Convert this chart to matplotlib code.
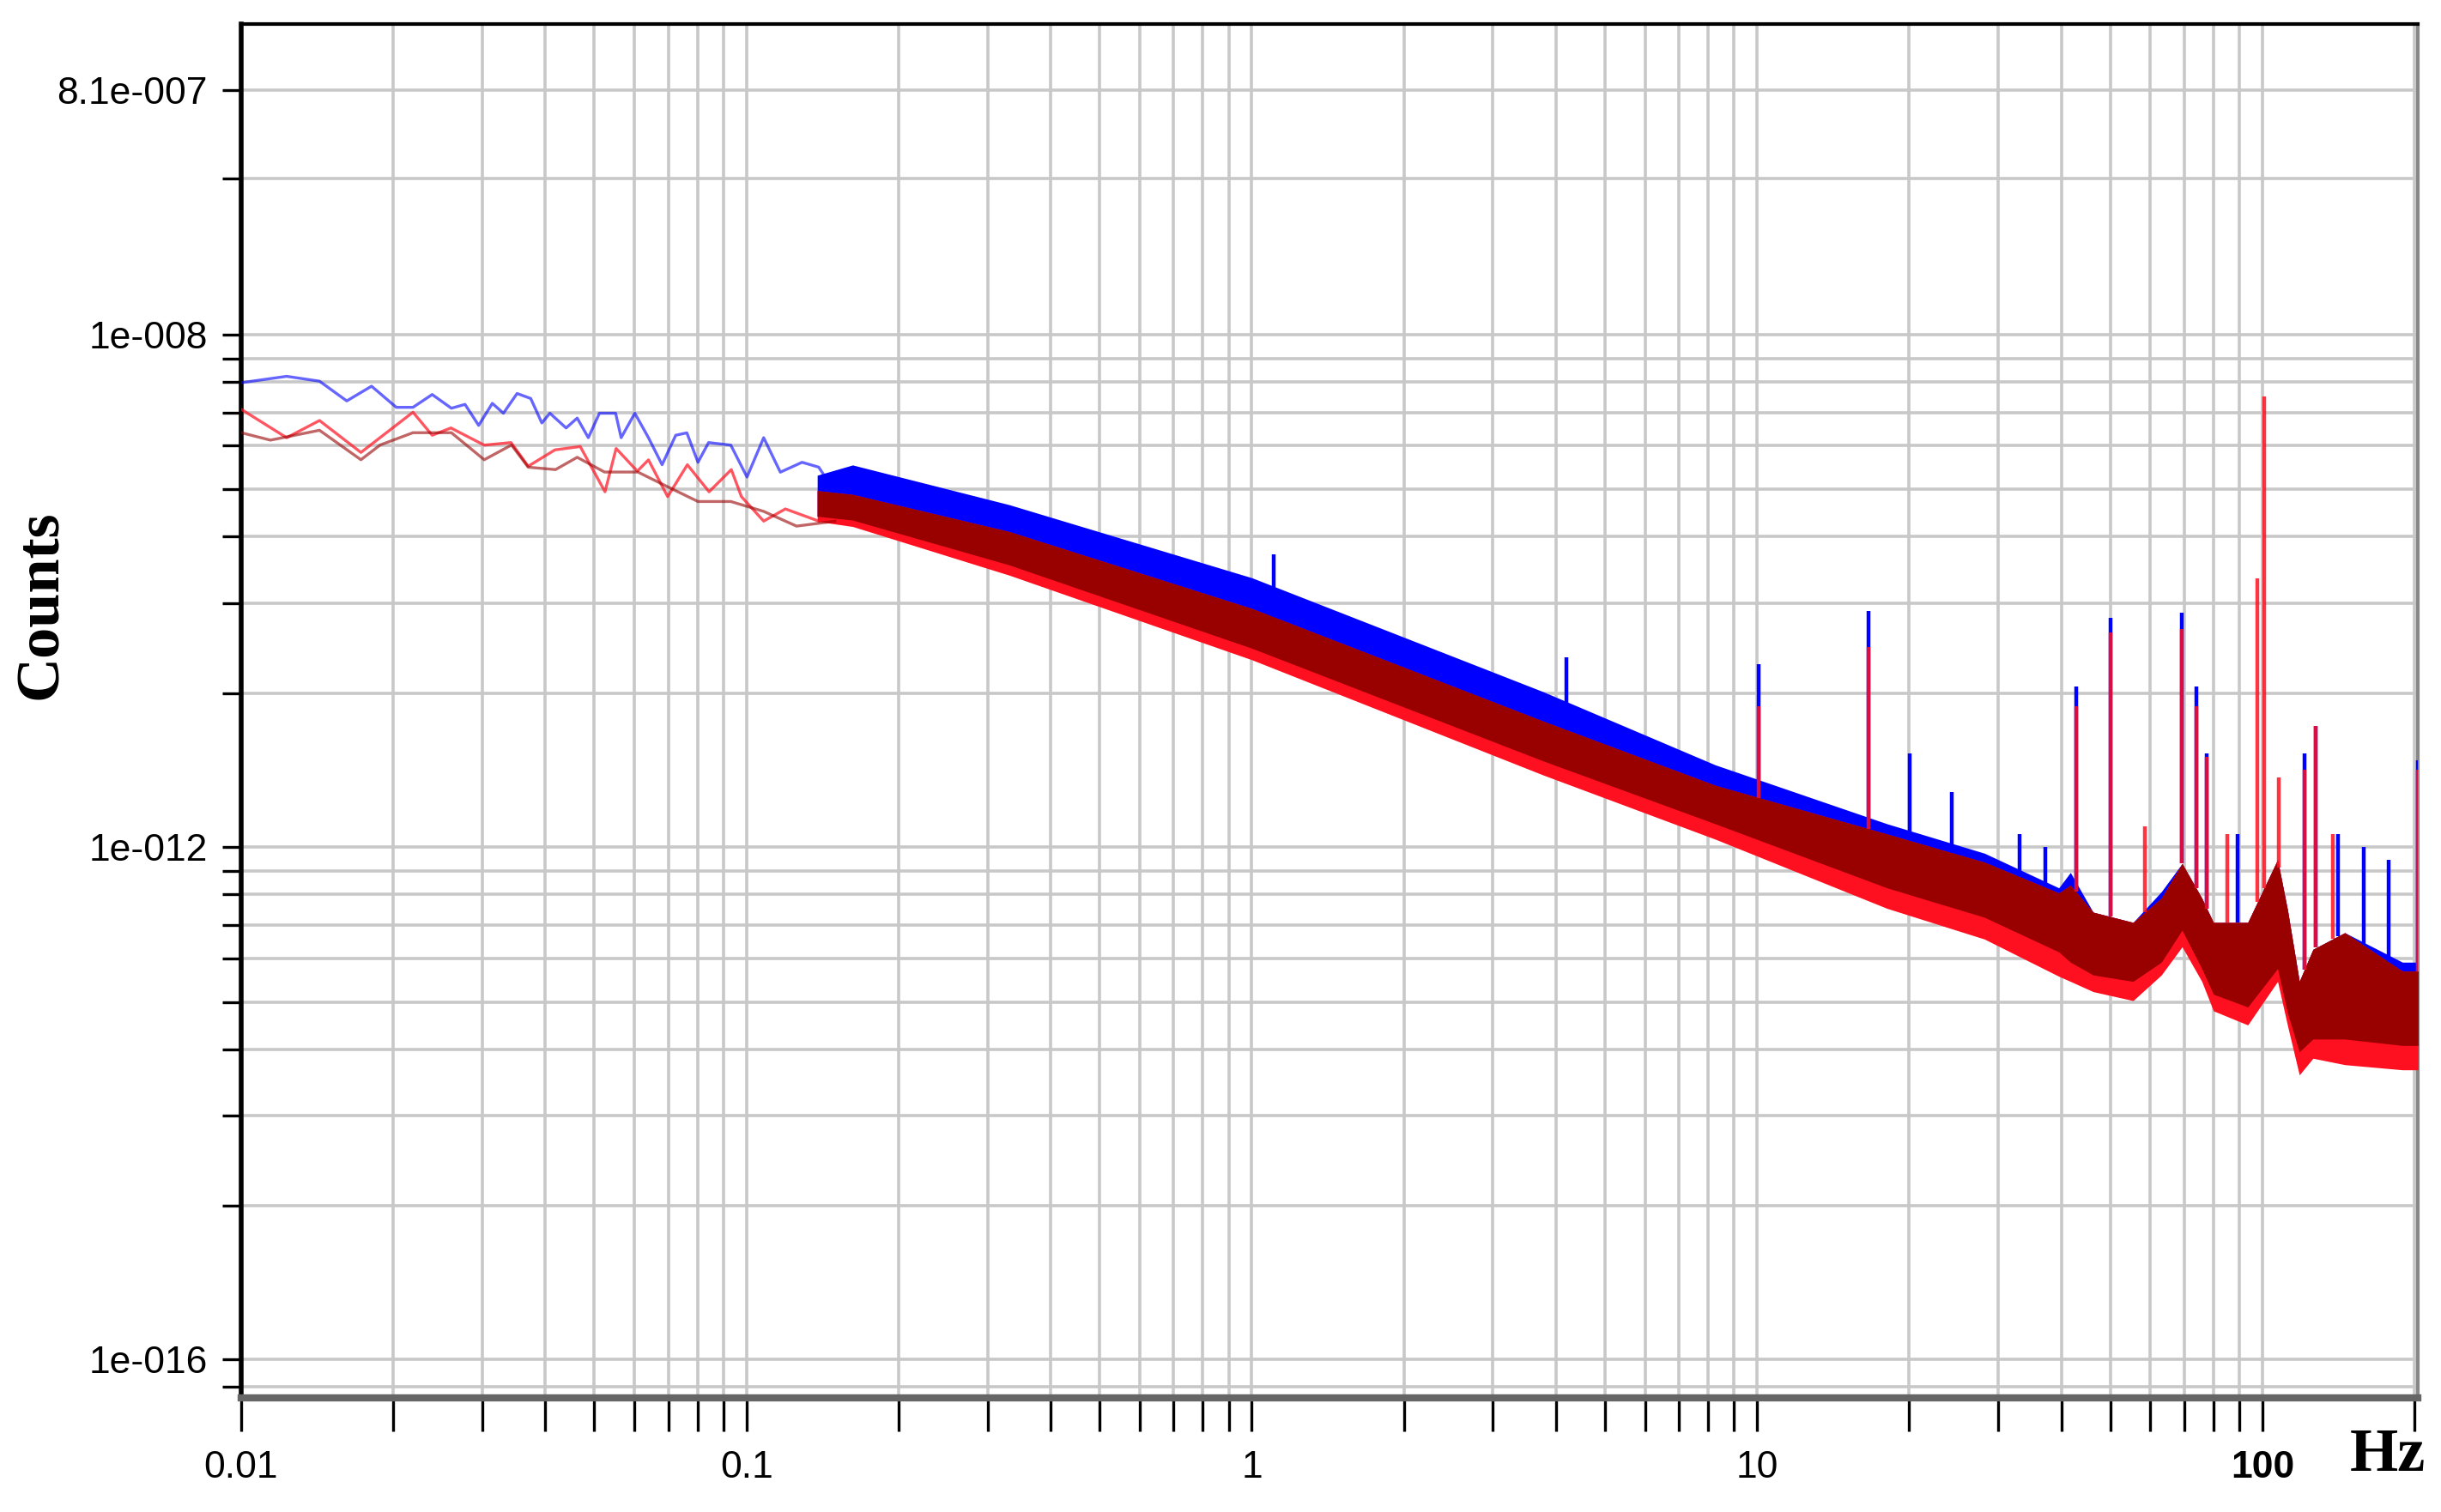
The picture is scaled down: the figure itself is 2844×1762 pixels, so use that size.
import numpy as np
import matplotlib
matplotlib.use("Agg")
import matplotlib.pyplot as plt
from matplotlib.ticker import FixedLocator, NullFormatter

# low-frequency traces, log10(Hz) and log10(counts)
blue_lf_x = [-2.0, -1.910, -1.845, -1.791, -1.742, -1.693, -1.660, -1.622, -1.584, -1.557, -1.530, -1.503,
             -1.481, -1.454, -1.427, -1.405, -1.389, -1.357, -1.335, -1.313, -1.291, -1.259, -1.248, -1.221,
             -1.194, -1.167, -1.140, -1.118, -1.096, -1.075, -1.031, -0.999, -0.966, -0.933, -0.890, -0.857, -0.825]
blue_lf_y = [-8.378, -8.328, -8.366, -8.520, -8.405, -8.570, -8.570, -8.470, -8.577, -8.547, -8.711, -8.539,
             -8.616, -8.462, -8.501, -8.692, -8.616, -8.731, -8.654, -8.807, -8.616, -8.616, -8.807, -8.616,
             -8.807, -9.018, -8.788, -8.769, -8.999, -8.845, -8.865, -9.114, -8.807, -9.076, -8.999, -9.037, -9.229]

red_lf_x = [-2.0, -1.910, -1.845, -1.763, -1.660, -1.622, -1.585, -1.519, -1.466, -1.432, -1.379, -1.329,
            -1.280, -1.258, -1.216, -1.194, -1.156, -1.117, -1.074, -1.030, -1.010, -0.966, -0.923, -0.857]
red_lf_y = [-8.585, -8.807, -8.673, -8.922, -8.608, -8.788, -8.731, -8.865, -8.845, -9.030, -8.902, -8.876,
            -9.229, -8.891, -9.068, -8.980, -9.267, -9.018, -9.229, -9.056, -9.267, -9.458, -9.363, -9.458]

dred_lf_x = [-2.0, -1.942, -1.845, -1.763, -1.725, -1.660, -1.584, -1.519, -1.465, -1.432, -1.378, -1.335,
             -1.281, -1.215, -1.156, -1.096, -1.031, -0.966, -0.901, -0.825]
dred_lf_y = [-8.768, -8.826, -8.749, -8.979, -8.864, -8.768, -8.768, -8.979, -8.864, -9.037, -9.056, -8.960,
             -9.075, -9.075, -9.190, -9.305, -9.305, -9.382, -9.497, -9.459]

# dense part: envelope of each noisy trace
band_x = [-0.86, -0.79, -0.48, 0.0, 0.577, 0.917, 1.257, 1.45, 1.597, 1.62, 1.665, 1.744, 1.80, 1.841, 1.88,
          1.903, 1.971, 2.03, 2.05, 2.073, 2.10, 2.163, 2.277, 2.308]
blue_top = [-9.10, -9.02, -9.33, -9.90, -10.79, -11.36, -11.82, -12.05, -12.32, -12.20, -12.51, -12.59, -12.35,
            -12.13, -12.40, -12.59, -12.59, -12.10, -12.50, -13.05, -12.80, -12.67, -12.90, -12.90]
dred_top = [-9.22, -9.25, -9.54, -10.14, -11.02, -11.52, -11.90, -12.12, -12.36, -12.30, -12.51, -12.59, -12.40,
            -12.13, -12.40, -12.59, -12.59, -12.10, -12.50, -13.05, -12.80, -12.67, -12.97, -12.97]
dred_bot = [-9.42, -9.45, -9.80, -10.45, -11.33, -11.82, -12.32, -12.55, -12.82, -12.90, -13.00, -13.05, -12.90,
            -12.65, -12.95, -13.15, -13.25, -12.95, -13.30, -13.60, -13.50, -13.50, -13.55, -13.55]
red_bot = [-9.46, -9.50, -9.88, -10.54, -11.44, -11.94, -12.48, -12.72, -13.01, -13.05, -13.13, -13.20, -13.00,
           -12.78, -13.05, -13.28, -13.39, -13.05, -13.40, -13.78, -13.65, -13.70, -13.74, -13.74]

# narrow peaks (log10 Hz, log10 peak)
blue_peaks = [(0.043, -9.716), (0.623, -10.52), (1.003, -10.577), (1.22, -10.156), (1.302, -11.27),
              (1.386, -11.574), (1.52, -11.9), (1.57, -12.0), (1.631, -10.75), (1.699, -10.213),
              (1.841, -10.175), (1.869, -10.75), (1.89, -11.27), (1.95, -11.9), (2.083, -11.27),
              (2.106, -11.06), (2.15, -11.9), (2.2, -12.0), (2.25, -12.1), (2.308, -11.325)]
red_peaks = [(1.003, -10.90), (1.22, -10.443), (1.631, -10.9), (1.699, -10.328), (1.767, -11.842),
             (1.841, -10.3), (1.869, -10.9), (1.89, -11.3), (1.93, -11.9), (1.99, -9.907), (2.003, -8.488),
             (2.033, -11.459), (2.083, -11.4), (2.106, -11.06), (2.14, -11.9), (2.308, -11.4)]

y_major = [8.1e-7, 1e-8, 1e-12, 1e-16]
y_major_labels = ["8.1e-007", "1e-008", "1e-012", "1e-016"]
grid_offsets = [0.19, 0.37, 0.61, 0.87, 1.21, 1.58, 2.1, 2.8]

BLUE = "#0000ff"
RED = "#ff1020"
DRED = "#990000"

fig = plt.figure(figsize=(14.22, 8.81), dpi=200)
ax = fig.add_axes([0.0988, 0.0755, 0.8917, 0.9085])
ax.set_xscale("log")
ax.set_yscale("log")

p = lambda a: 10.0 ** np.asarray(a)

bx = p(band_x)
ax.fill_between(bx, p(dred_bot), p(blue_top), color=BLUE, lw=0, zorder=2)
ax.fill_between(bx, p(red_bot), p(dred_top), color=RED, lw=0, zorder=3)
ax.fill_between(bx, p(dred_bot), p(dred_top), color=DRED, lw=0, zorder=4)

for f, pk in blue_peaks:
    base = np.interp(f, band_x, dred_top)
    ax.vlines(p(f), p(base), p(pk), color=BLUE, lw=1.6, zorder=3)
for f, pk in red_peaks:
    base = np.interp(f, band_x, dred_top)
    ax.vlines(p(f), p(base), p(pk), color=RED, lw=1.6, alpha=0.85, zorder=5)

ax.plot(p(blue_lf_x), p(blue_lf_y), color=BLUE, lw=1.2, alpha=0.6, zorder=3)
ax.plot(p(red_lf_x), p(red_lf_y), color=RED, lw=1.2, alpha=0.7, zorder=4)
ax.plot(p(dred_lf_x), p(dred_lf_y), color=DRED, lw=1.2, alpha=0.6, zorder=4)

ax.set_xlim(0.01, 203)
ax.set_ylim(10 ** -16.30, 10 ** -5.58)

# axis ticks / grid
ax.set_xticks([0.01, 0.1, 1, 10, 100])
ax.set_xticklabels(["0.01", "0.1", "1", "10", "100"], fontfamily="Liberation Sans", fontsize=16)
ax.get_xticklabels()[-1].set_fontweight("bold")
ax.xaxis.set_minor_locator(FixedLocator([m * 10.0 ** e for e in range(-2, 3) for m in range(2, 10)]))
ax.xaxis.set_minor_formatter(NullFormatter())

y_minor = [1.64e-7, 10 ** -16.21]
for base in [1e-8, 1e-12]:
    y_minor += [base * 10 ** -o for o in grid_offsets]
ax.set_yticks(y_major)
ax.set_yticklabels(y_major_labels, fontfamily="Liberation Sans", fontsize=16)
ax.yaxis.set_minor_locator(FixedLocator(y_minor))
ax.yaxis.set_minor_formatter(NullFormatter())

ax.grid(True, which="both", color="#c8c8c8", lw=1.3, zorder=0)
ax.set_axisbelow(True)
ax.tick_params(axis="both", which="both", direction="out", color="black", width=1.2)
ax.tick_params(axis="x", which="major", length=14, pad=8)
ax.tick_params(axis="x", which="minor", length=14)
ax.tick_params(axis="y", which="major", length=8, pad=6)
ax.tick_params(axis="y", which="minor", length=8)

ax.spines["left"].set_linewidth(2)
ax.spines["bottom"].set_linewidth(3)
ax.spines["bottom"].set_color("#666666")
ax.spines["top"].set_linewidth(1.5)
ax.spines["right"].set_linewidth(1.5)
ax.spines["right"].set_color("#888888")

fig.text(0.017, 0.60, "Counts", rotation=90, fontfamily="Liberation Serif", fontweight="bold",
         fontsize=26, ha="center", va="center")
fig.text(0.978, 0.037, "Hz", fontfamily="Liberation Serif", fontweight="bold",
         fontsize=26, ha="center", va="center")

fig.savefig("out.png", dpi=200)
